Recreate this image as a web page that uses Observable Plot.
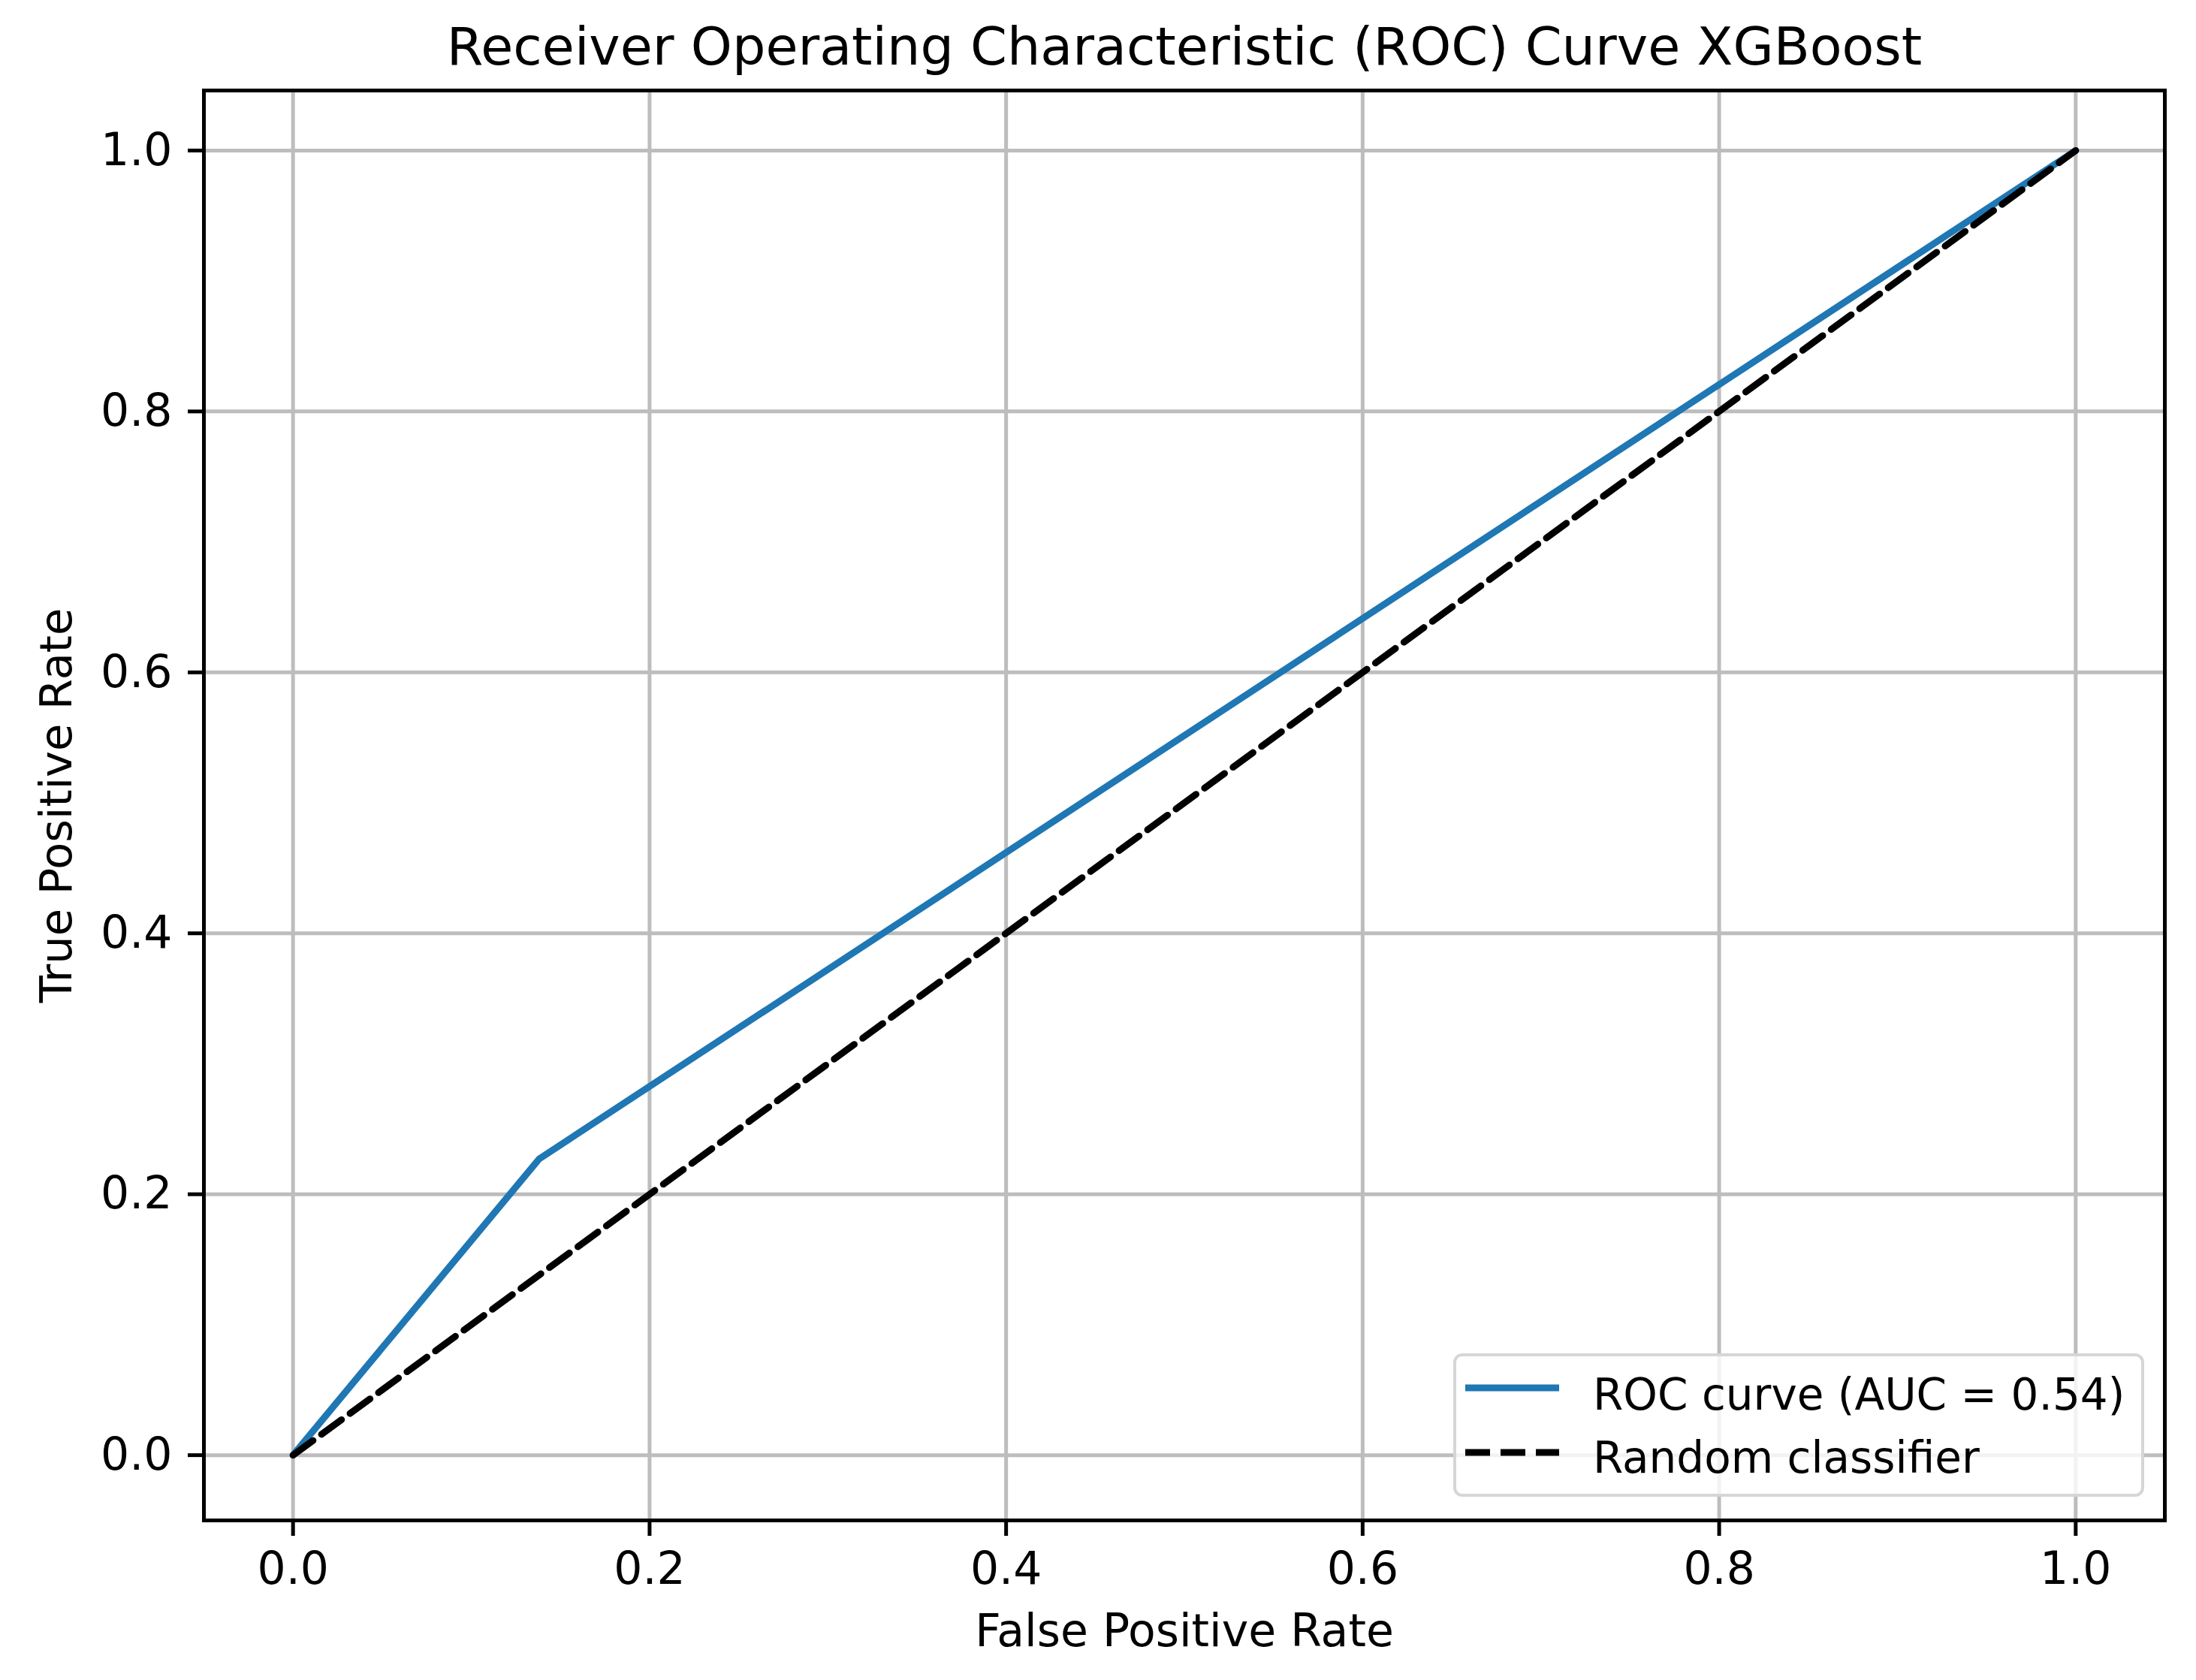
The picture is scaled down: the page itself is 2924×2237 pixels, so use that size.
<!DOCTYPE html>
<html>
<head>
<meta charset="utf-8">
<script src="https://cdn.jsdelivr.net/npm/d3@7"></script>
<script src="https://cdn.jsdelivr.net/npm/@observablehq/plot@0.6"></script>
<style>
  html, body { margin: 0; padding: 0; background: white; }
  #wrap { position: relative; width: 2924px; height: 2237px; font-family: "DejaVu Sans", sans-serif; }
  #legend { position: absolute; left: 1935px; top: 1802px; width: 920px; height: 191px;
            box-sizing: border-box; border: 4px solid #d6d6d6; border-radius: 12px;
            background: rgba(255,255,255,0.8); }
  #legend svg { position: absolute; left: -4px; top: -4px; overflow: visible; }
</style>
</head>
<body>
<div id="wrap"></div>
<script>
// ---- data ----
const chartTitle = "Receiver Operating Characteristic (ROC) Curve XGBoost";
const xLabel = "False Positive Rate";
const yLabel = "True Positive Rate";
const rocFpr = [0, 0.138, 1];
const rocTpr = [0, 0.227, 1];
const randFpr = [0, 1];
const randTpr = [0, 1];
const xTicks = [0, 0.2, 0.4, 0.6, 0.8, 1.0];
const yTicks = [0, 0.2, 0.4, 0.6, 0.8, 1.0];
const legendLabels = ["ROC curve (AUC = 0.54)", "Random classifier"];

const roc = rocFpr.map((x, i) => ({x, y: rocTpr[i]}));
const rand = randFpr.map((x, i) => ({x, y: randTpr[i]}));

const blue = "#1f77b4";
const fmt = d3.format(".1f");

const chart = Plot.plot({
  width: 2924,
  height: 2237,
  marginLeft: 271,
  marginRight: 42,
  marginTop: 120,
  marginBottom: 213,
  style: {fontFamily: "DejaVu Sans, sans-serif", background: "white", color: "black", overflow: "visible"},
  x: {domain: [-0.05, 1.05]},
  y: {domain: [-0.05, 1.046]},
  marks: [
    Plot.gridX(xTicks, {stroke: "#bdbdbd", strokeOpacity: 1, strokeWidth: 5}),
    Plot.gridY(yTicks, {stroke: "#bdbdbd", strokeOpacity: 1, strokeWidth: 5}),
    Plot.line(roc, {x: "x", y: "y", stroke: blue, strokeWidth: 9}),
    Plot.line(rand, {x: "x", y: "y", stroke: "black", strokeWidth: 9, strokeDasharray: "33,14"}),
    Plot.frame({stroke: "black", strokeWidth: 5}),
    Plot.axisX(xTicks, {tickSize: 21, tickPadding: 21, fontSize: 60, strokeWidth: 5, tickFormat: fmt, label: null, fill: "black"}),
    Plot.axisY(yTicks, {tickSize: 21, tickPadding: 21, fontSize: 60, strokeWidth: 5, tickFormat: fmt, label: null, fill: "black"}),
    Plot.text([chartTitle], {frameAnchor: "top", lineAnchor: "middle", dy: -57, fontSize: 70, fill: "black"}),
    Plot.text([xLabel], {frameAnchor: "bottom", dy: 167, fontSize: 60, fill: "black"}),
    Plot.text([yLabel], {frameAnchor: "left", textAnchor: "middle", lineAnchor: "middle", rotate: -90, dx: -195, fontSize: 59, fill: "black"})
  ]
});

const wrap = document.getElementById("wrap");
wrap.appendChild(chart);

// ---- legend ----
const leg = document.createElement("div");
leg.id = "legend";
const ns = "http://www.w3.org/2000/svg";
const lsvg = document.createElementNS(ns, "svg");
lsvg.setAttribute("width", 920);
lsvg.setAttribute("height", 191);
const rows = [
  {label: legendLabels[0], stroke: blue, dash: null, ly: 46, ty: 75},
  {label: legendLabels[1], stroke: "black", dash: "33,14", ly: 132, ty: 159}
];
rows.forEach(r => {
  const ln = document.createElementNS(ns, "line");
  ln.setAttribute("x1", 16); ln.setAttribute("x2", 141);
  ln.setAttribute("y1", r.ly); ln.setAttribute("y2", r.ly);
  ln.setAttribute("stroke", r.stroke); ln.setAttribute("stroke-width", 9);
  if (r.dash) ln.setAttribute("stroke-dasharray", r.dash);
  lsvg.appendChild(ln);
  const t = document.createElementNS(ns, "text");
  t.setAttribute("x", 186); t.setAttribute("y", r.ty);
  t.setAttribute("font-size", 58);
  t.setAttribute("font-family", "DejaVu Sans, sans-serif");
  t.setAttribute("fill", "black");
  t.textContent = r.label;
  lsvg.appendChild(t);
});
leg.appendChild(lsvg);
wrap.appendChild(leg);
</script>
</body>
</html>
